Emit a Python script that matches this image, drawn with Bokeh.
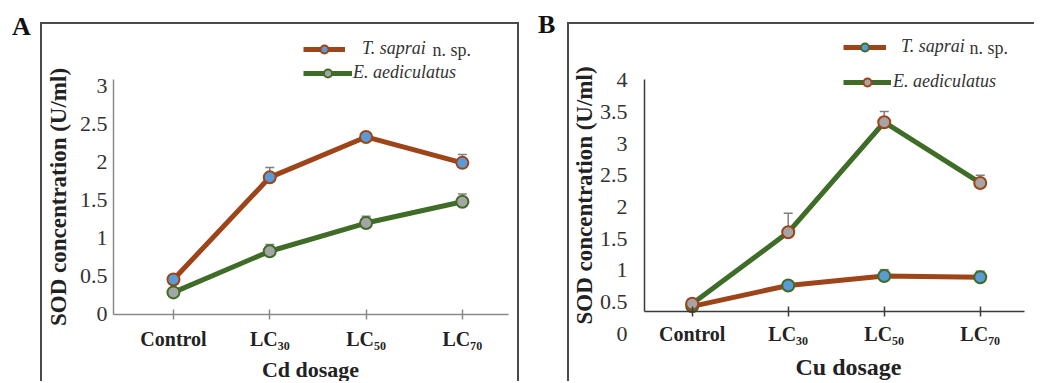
from bokeh.plotting import figure
from bokeh.models import (FixedTicker, Range1d, Whisker, TeeHead, ColumnDataSource,
                          Legend, LegendItem, Label, Div)
from bokeh.layouts import row
from bokeh.embed import file_html
from bokeh.resources import INLINE

# ---------------- data ----------------
categories = ["Control", "LC30", "LC50", "LC70"]
cat_labels = ["Control", "LC\u2083\u2080", "LC\u2085\u2080", "LC\u2087\u2080"]

series_names = ["T. saprai", "E. aediculatus"]

cd_saprai = [0.46, 1.80, 2.33, 1.99]
cd_saprai_err = [0.03, 0.13, 0.04, 0.11]
cd_aed = [0.29, 0.83, 1.20, 1.48]
cd_aed_err = [0.03, 0.09, 0.09, 0.10]

cu_saprai = [0.43, 0.76, 0.91, 0.89]
cu_saprai_err = [0.04, 0.06, 0.10, 0.095]
cu_aed = [0.47, 1.60, 3.34, 2.38]
cu_aed_err = [0.07, 0.30, 0.17, 0.12]

yticks_cd = [0, 0.5, 1, 1.5, 2, 2.5, 3]
yticks_cu = [0.5, 1, 1.5, 2, 2.5, 3, 3.5, 4]
extra_zero_label_cu = 0

# ---------------- style ----------------
FONT = "Liberation Serif"
ORANGE = "#9e4419"
GREEN = "#3f6c27"
BLUE = "#5b9bd5"
GRAY = "#a5a5a5"
ERR = "#7f7f7f"
BOX = "2px solid #4a4a4a"


def make_panel(s1, e1, s2, e2, yticks, xr, yr, xbounds, ybounds, x_axis_at,
               axis_color, width, height,
               ylab_standoff, ytitle_standoff, xlab_standoff,
               m1, m2, legend_cfg, xtitle_cfg, styles):
    # the frame fills the whole canvas; axes are pinned at their data positions
    p = figure(width=width, height=height, output_backend="svg", toolbar_location=None,
               x_range=Range1d(*xr), y_range=Range1d(*yr),
               min_border_left=0, min_border_right=0, min_border_top=0,
               min_border_bottom=0,
               background_fill_color="white", border_fill_color="white",
               outline_line_color=None, margin=(22, 0, 0, 0), styles=styles)
    p.grid.visible = False
    x = list(range(len(categories)))

    src1 = ColumnDataSource(dict(x=x, y=s1, upper=[v + e for v, e in zip(s1, e1)]))
    src2 = ColumnDataSource(dict(x=x, y=s2, upper=[v + e for v, e in zip(s2, e2)]))

    for src in (src1, src2):
        w = Whisker(source=src, base="x", lower="y", upper="upper", line_color=ERR,
                    line_width=1.5, lower_head=None,
                    upper_head=TeeHead(size=9, line_color=ERR, line_width=1.5),
                    level="underlay")
        p.add_layout(w)

    l1 = p.line("x", "y", source=src1, line_color=ORANGE, line_width=5)
    l2 = p.line("x", "y", source=src2, line_color=GREEN, line_width=5)
    c1 = p.scatter("x", "y", source=src1, size=12, fill_color=BLUE,
                   line_color=m1, line_width=2)
    c2 = p.scatter("x", "y", source=src2, size=12, fill_color=GRAY,
                   line_color=m2, line_width=2)

    # axes
    xa = p.xaxis[0]
    xa.fixed_location = x_axis_at
    xa.bounds = xbounds
    xa.ticker = FixedTicker(ticks=x)
    xa.major_label_overrides = {i: lab for i, lab in zip(x, cat_labels)}
    xa.axis_line_color = axis_color
    xa.axis_line_width = 1.5
    xa.major_tick_line_color = axis_color
    xa.major_tick_line_width = 1.5
    xa.major_tick_in = 5
    xa.major_tick_out = 5
    xa.minor_tick_line_color = None
    xa.major_label_text_font = FONT
    xa.major_label_text_font_style = "bold"
    xa.major_label_text_font_size = "20px"
    xa.major_label_text_color = "#222222"
    xa.major_label_standoff = xlab_standoff

    ya = p.yaxis[0]
    ya.fixed_location = xbounds[0]
    ya.bounds = ybounds
    ya.ticker = FixedTicker(ticks=yticks)
    ya.major_label_overrides = {t: f"{t:g}" for t in yticks}
    ya.axis_line_color = axis_color
    ya.axis_line_width = 1.5
    ya.major_tick_line_color = None
    ya.major_tick_in = 0
    ya.major_tick_out = 0
    ya.minor_tick_line_color = None
    ya.major_label_text_font = FONT
    ya.major_label_text_font_size = "22px"
    ya.major_label_text_color = "#333333"
    ya.major_label_standoff = ylab_standoff
    ya.axis_label = "SOD concentration (U/ml)"
    ya.axis_label_text_font = FONT
    ya.axis_label_text_font_style = "bold"
    ya.axis_label_text_font_size = "23px"
    ya.axis_label_text_color = "#222222"
    ya.axis_label_standoff = ytitle_standoff

    # x-axis title as a text annotation (frame-relative screen position)
    text, size, tx, ty = xtitle_cfg
    p.add_layout(Label(x=tx, y=ty, x_units="screen", y_units="screen", text=text,
                       text_font=FONT, text_font_style="bold", text_font_size=size,
                       text_color="#222222", text_align="center",
                       text_baseline="middle"))

    # legends (one per item so each keeps its own spacing)
    for (rends, name, cfg) in [([l1, c1], series_names[0], legend_cfg[0]),
                               ([l2, c2], series_names[1], legend_cfg[1])]:
        loc, gw, standoff, suffix_xy = cfg
        lg = Legend(items=[LegendItem(label=name, renderers=rends)], location=loc,
                    glyph_width=gw, glyph_height=20, label_height=20,
                    label_standoff=standoff, padding=0, margin=0, spacing=0,
                    border_line_color=None, background_fill_alpha=0,
                    label_text_font=FONT, label_text_font_style="italic",
                    label_text_font_size="18px", label_text_color="#333333")
        p.add_layout(lg)
        if suffix_xy is not None:
            p.add_layout(Label(x=suffix_xy[0], y=suffix_xy[1], x_units="screen",
                               y_units="screen", text="n. sp.", text_font=FONT,
                               text_font_size="18px", text_color="#333333",
                               text_baseline="middle"))
    return p


# Panel A (Cd): canvas 479 x 359, canvas origin at page (42, 24)
pA = make_panel(cd_saprai, cd_saprai_err, cd_aed, cd_aed_err, yticks_cd,
                xr=(-1.360, 3.614), yr=(-0.906, 3.806),
                xbounds=(-0.623, 3.479), ybounds=(0, 3.08), x_axis_at=0,
                axis_color="#8a8a8a", width=479, height=359,
                ylab_standoff=6, ytitle_standoff=6, xlab_standoff=9,
                m1=ORANGE, m2=GREEN,
                legend_cfg=[((261, 324), 42, 17, (390, 334)),
                            ((261, 300), 49, 1, None)],
                xtitle_cfg=("Cd dosage", "22px", 268, 14),
                styles={"border-top": BOX, "border-left": BOX, "border-right": BOX})

# Panel B (Cu): canvas 467 x 359, canvas origin at page (573, 24)
pB = make_panel(cu_saprai, cu_saprai_err, cu_aed, cu_aed_err, yticks_cu,
                xr=(-1.278, 3.586), yr=(-0.79, 4.885),
                xbounds=(-0.497, 3.461), ybounds=(0.35, 4.02), x_axis_at=0.35,
                axis_color="#3a3a3a", width=467, height=359,
                ylab_standoff=17, ytitle_standoff=0, xlab_standoff=7,
                m1=GREEN, m2=ORANGE,
                legend_cfg=[((274, 326), 43, 15, (400, 336)),
                            ((274, 291), 48, 2, None)],
                xtitle_cfg=("Cu dosage", "24px", 279, 17),
                styles={"border-top": BOX, "border-left": BOX})
pB.add_layout(Label(x=58, y=extra_zero_label_cu, x_units="screen", y_units="data",
                    text=f"{extra_zero_label_cu:g}", text_font=FONT,
                    text_font_size="22px", text_color="#333333",
                    text_align="right", text_baseline="middle"))

letter_style = {"font-family": FONT, "font-size": "26px", "font-weight": "bold",
                "color": "#111111"}
dA = Div(text="A", width=28, height=40, margin=(8, 0, 0, 12), styles=letter_style)
dB = Div(text="B", width=29, height=40, margin=(6, 0, 0, 19), styles=letter_style)

layout = row(dA, pA, dB, pB)

with open("out.html", "w") as f:
    f.write(file_html(layout, INLINE))
